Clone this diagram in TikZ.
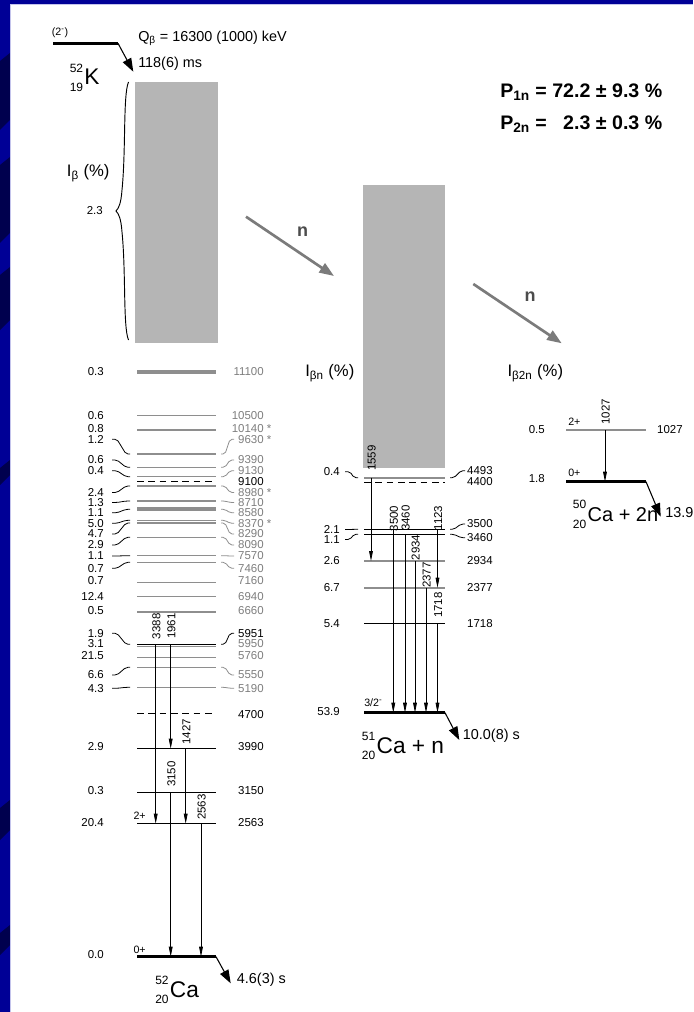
\documentclass[tikz,border=0pt]{standalone}
\usepackage{fontspec}
\setmainfont{Liberation Sans}
\usetikzlibrary{arrows.meta}
\definecolor{slide}{HTML}{000096}
\definecolor{slidedk}{HTML}{00004E}
\definecolor{rim}{HTML}{C4C4EC}
\definecolor{fed}{HTML}{B5B5B5}
\definecolor{levg}{HTML}{8E8E8E}
\definecolor{txtg}{HTML}{7E7E7E}
\definecolor{narr}{HTML}{7B7B7B}
\tikzset{
  lev/.style={line width=0.7pt},
  glev/.style={levg,line width=0.8pt},
  gslev/.style={line width=2.3pt},
  dlev/.style={line width=0.7pt,dash pattern=on 5pt off 3.5pt},
  lab/.style={font=\fontsize{8.6}{9}\selectfont,inner sep=0pt},
  glab/.style={lab,rotate=90},
  spin/.style={font=\fontsize{8}{8}\selectfont,inner sep=0pt,anchor=west},
  big/.style={font=\fontsize{10.8}{12}\selectfont,inner sep=0pt,anchor=west},
  axl/.style={font=\fontsize{12.5}{14}\selectfont,inner sep=0pt,anchor=base west},
  nucl/.style={font=\fontsize{17}{18}\selectfont,inner sep=0pt,anchor=base west},
  pbold/.style={font=\bfseries\fontsize{14.7}{16}\selectfont,inner sep=0pt,anchor=base west},
  nlab/.style={font=\bfseries\fontsize{13.5}{14}\selectfont,text=black!70,inner sep=0pt},
  conn/.style={line width=0.6pt,rounded corners=1.5pt},
  gam/.style={line width=0.6pt,-{Triangle[length=7.5pt,width=2.8pt]}},
  decay/.style={line width=0.8pt,-{Triangle[length=10pt,width=7pt]}},
  nflow/.style={narr,line width=2pt,-{Triangle[length=11pt,width=8pt]}}
}
\newcount\labno
\newcommand{\lvl}[2][lev]{\draw[#1] (\levL,#2) -- (\levR,#2);}
\newcommand{\ilab}[2]{\global\advance\labno by 1 \node[lab,anchor=east] (L\the\labno) at (\intX,#1) {#2};}
\newcommand{\elab}[3][]{\global\advance\labno by 1 \node[lab,anchor=east,#1] (L\the\labno) at (\enX,#2) {#3};}
\newcommand{\conl}[2]{\draw[conn] (\cLa,#1) -- ++(5,0) -- (\cLb-4,#2) -- (\cLb,#2);}
\newcommand{\conr}[3][]{\draw[conn,#1] (\cRa,#2) -- ++(4,0) -- (\cRb-4,#3) -- (\cRb,#3);}
\newcommand{\gam}[5]{\draw[gam] (#1,#2) -- (#1,#3); \node[glab] (g#5) at (#1+0.7,#4) {#5};}
\newcommand{\nuc}[3]{{\fontsize{9}{9}\selectfont\rlap{\raisebox{9.5pt}{#1}}\raisebox{-5pt}{#2}}\kern1pt#3}

\begin{document}
\begin{tikzpicture}[x=0.75pt,y=-0.75pt]
\useasboundingbox (0,0) rectangle (693,1012);
% slide background
\fill[slide] (0,0) rectangle (693,1012);
\foreach \a/\bb in {53/120,157/233,267/320,460/475,800/830,925/945}
  \fill[slidedk] (0,\a+8) -- (10,\a) -- (10,\bb) -- (0,\bb+10) -- cycle;
\fill[white] (10,4.5) rectangle (693,1012);
\draw[rim,line width=0.7pt] (10.5,1012) -- (10.5,4.8) -- (693,4.8);

% 52K
\draw[line width=2.6pt] (53,43.3) -- (118,43.3) coordinate (kR);
\node[spin] (kspin) at (51.5,33) {(2\textsuperscript{-})};
\coordinate (kT) at (133.3,71.7);
\draw[decay] (kR) -- (kT);
\node[big] (qb) at (138,38.3) {Q\textsubscript{β} = 16300 (1000) keV};
\node[big] (kth) at (138,63.3) {118(6) ms};
\node[nucl] (k52) at (69.5,85) {\nuc{52}{19}{K}};
\node[pbold] (p1n) at (500,97.7) {P\textsubscript{1n} = 72.2 ± 9.3 \%};
\node[pbold] (p2n) at (500,129.3) {P\textsubscript{2n} = \phantom{7}2.3 ± 0.3 \%};

% neutrons
\coordinate (n1a) at (246,216.7); \coordinate (n1b) at (334,276);
\draw[nflow] (n1a) -- (n1b);
\node[nlab] (n1) at (302.7,231.7) {n};
\coordinate (n2a) at (473.3,284); \coordinate (n2b) at (561.7,343.3);
\draw[nflow] (n2a) -- (n2b);
\node[nlab] (n2) at (530,296.7) {n};

% 52Ca
\fill[fed] (135,82) rectangle (217.5,343);
\draw[line width=0.7pt] (128.5,82) .. controls (123,95) and (126,150) .. (122,190)
  .. controls (121,203) and (119,208) .. (116,211) .. controls (119,214) and (121,219) .. (122,232)
  .. controls (126,272) and (123,327) .. (128.5,340);
\node[axl] (ib) at (66.7,176.7) {I\textsubscript{β} (\%)};
\node[lab,anchor=east] (i23) at (103,211) {2.3};
\def\levL{137}\def\levR{216}\def\intX{104}\def\enX{264}
\def\cLa{112}\def\cLb{130}\def\cRa{221}\def\cRb{234}
\foreach \ly/\ty/\pc/\en/\lw in {372/372/0.3/11100/2.4pt, 415.7/415.7/0.6/10500/0.8pt,
    430/429/0.8/{10140\rlap{\ *}}/0.8pt, 582.7/581/0.7/7160/0.8pt, 596.7/596.7/12.4/6940/0.8pt,
    612/610.7/0.5/6660/0.8pt, 646.3/644/3.1/5950/0.8pt, 657.7/656/21.5/5760/0.8pt}
  {\lvl[glev,line width=\lw]{\ly} \ilab{\ty}{\pc} \elab[txtg]{\ty}{\en}}
\foreach \ly/\ty/\pc/\en/\lw in {454/439.3/1.2/{9630\rlap{\ *}}/0.8pt, 467.3/460/0.6/9390/0.8pt,
    476.7/470.7/0.4/9130/0.8pt, 486/492.5/2.4/{8980\rlap{\ *}}/0.8pt, 501/502.5/1.3/8710/1.5pt,
    509.3/512.8/1.1/8580/3pt, 520.3/523.3/5.0/{8370\rlap{\ *}}/0.8pt, 523/534/4.7/8290/0.8pt,
    537.3/545/2.9/8090/0.8pt, 555.7/556/1.1/7570/0.8pt, 562.3/568.3/0.7/7460/0.8pt,
    667.3/675/6.6/5550/0.8pt, 687.3/688.3/4.3/5190/0.8pt}
  {\lvl[glev,line width=\lw]{\ly} \conl{\ty}{\ly} \ilab{\ty}{\pc} \conr[levg]{\ly}{\ty} \elab[txtg]{\ty}{\en}}
\lvl[dlev]{481.7} \elab{481.7}{9100}
\lvl{644.3} \conl{633.3}{644.3} \ilab{633.3}{1.9} \conr{644.3}{633.3} \elab{633.3}{5951}
\lvl[dlev]{713.3} \elab{715}{4700}
\foreach \ly/\ty/\pc/\en in {748.7/746.7/2.9/3990, 792.3/791/0.3/3150, 823.7/822.7/20.4/2563}
  {\lvl{\ly} \ilab{\ty}{\pc} \elab{\ty}{\en}}
\lvl[gslev]{956.7} \ilab{955}{0.0}
\node[spin] (s2p) at (133.3,816) {2+};
\node[spin] (s0p) at (133.3,950) {0+};
\gam{155.7}{644.3}{823.7}{626.3}{3388}
\gam{170.7}{644.3}{748.7}{626}{1961}
\gam{185.7}{748.7}{823.7}{731.7}{1427}
\gam{170.7}{792.3}{956.7}{774}{3150}
\gam{201}{823.7}{956.7}{807}{2563}
\coordinate (ca52R) at (216,956.7); \coordinate (ca52T) at (230.7,983.3);
\draw[decay] (ca52R) -- (ca52T);
\node[big] (t52) at (236.7,980) {4.6(3) s};
\node[nucl] (ca52) at (155,997.3) {\nuc{52}{20}{Ca}};

% 51Ca + n
\fill[fed] (363.3,185) rectangle (445,468.3);
\node[axl] (ibn) at (305,376.7) {I\textsubscript{βn} (\%)};
\def\levL{364}\def\levR{445}\def\intX{340}\def\enX{493}
\def\cLa{345}\def\cLb{358}\def\cRa{450}\def\cRb{465}
\lvl[glev,line width=1.6pt]{477.7} \conl{471.7}{477.7} \ilab{471.7}{0.4} \conr{477.7}{470.7} \elab{470.7}{4493}
\lvl[dlev]{482.3} \elab{481.7}{4400}
\lvl{529.3} \conl{529.5}{529.3} \ilab{529.5}{2.1} \conr{529.3}{524} \elab{524}{3500}
\lvl{534.3} \conl{539.5}{534.3} \ilab{539.5}{1.1} \conr{534.3}{537.7} \elab{537.7}{3460}
\lvl[glev]{561} \ilab{561}{2.6} \elab{561}{2934}
\lvl[glev,line width=1.2pt]{587.7} \ilab{587.7}{6.7} \elab{587.7}{2377}
\lvl{623.3} \ilab{623.3}{5.4} \elab{623.3}{1718}
\lvl[gslev]{712.7} \ilab{712}{53.9}
\node[spin] (s32) at (364,702.7) {3/2\textsuperscript{-}};
\gam{371}{477.7}{561}{458}{1559}
\gam{393.3}{529.3}{712.7}{518.5}{3500}
\gam{405}{534.3}{712.7}{518}{3460}
\gam{437.5}{529.3}{587.7}{518}{1123}
\gam{415}{561}{712.7}{547.5}{2934}
\gam{426}{587.7}{712.7}{575}{2377}
\gam{437.5}{623.3}{712.7}{605}{1718}
\coordinate (ca51R) at (445,712.7); \coordinate (ca51T) at (459.3,740);
\draw[decay] (ca51R) -- (ca51T);
\node[big] (t51) at (462.7,736) {10.0(8) s};
\node[nucl] (ca51) at (361.7,753.3) {\nuc{51}{20}{Ca + n}};

% 50Ca + 2n
\node[axl] (ib2n) at (507.3,376.7) {I\textsubscript{β2n} (\%)};
\def\levL{566}\def\levR{646}\def\intX{545}\def\enX{683}
\lvl[glev]{430} \ilab{430}{0.5} \elab{430}{1027}
\lvl[gslev]{481.7} \ilab{478.3}{1.8}
\node[spin] (s2b) at (568,421.7) {2+};
\node[spin] (s0b) at (568,473.3) {0+};
\gam{605}{430}{481.7}{411.7}{1027}
\coordinate (ca50R) at (646,481.7); \coordinate (ca50T) at (660.7,516.7);
\draw[decay] (ca50R) -- (ca50T);
\node[big] (t50) at (665,512.7) {13.9};
\node[nucl,font=\fontsize{15}{16}\selectfont] (ca50) at (572.7,521.5) {\nuc{50}{20}{Ca + 2n}};
\end{tikzpicture}
\end{document}
